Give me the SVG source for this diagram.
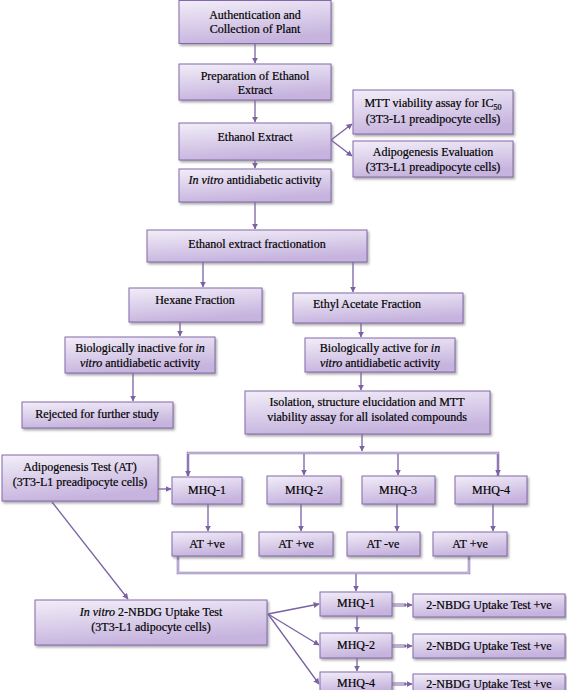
<svg xmlns="http://www.w3.org/2000/svg" width="567" height="690" viewBox="0 0 567 690">
<defs>
<linearGradient id="g" x1="0" y1="0" x2="0.3" y2="1">
<stop offset="0" stop-color="#f2eef8"/>
<stop offset="1" stop-color="#c6b3de"/>
</linearGradient>
<filter id="sh" x="-10%" y="-10%" width="125%" height="140%">
<feDropShadow dx="1.5" dy="2" stdDeviation="1.2" flood-color="#777" flood-opacity="0.6"/>
</filter>
<marker id="ah" viewBox="0 0 10 10" refX="9" refY="5" markerWidth="6" markerHeight="6" orient="auto" markerUnits="userSpaceOnUse">
<path d="M0,0 L10,5 L0,10 Z" fill="#7b61a3"/>
</marker>
</defs>
<style>
.b{fill:url(#g);stroke:#8468ac;stroke-width:1;filter:url(#sh)}
.t{font-family:"Liberation Serif","Times New Roman",serif;font-size:12px;fill:#000;stroke:#000;stroke-width:0.2;text-anchor:middle}
.i{font-style:italic}
.c{stroke:#7b61a3;stroke-width:1.3;fill:none}
.a{marker-end:url(#ah)}
.d1{stroke:#9a86c0;stroke-width:2.6;fill:none}
.d2{stroke:#e4ddef;stroke-width:0.8;fill:none}
.w1{stroke:#7b61a3;stroke-width:3;fill:none}
.w2{stroke:#fff;stroke-width:1;fill:none}
</style>
<g id="connectors">
<line class="c a" x1="255" y1="44" x2="255" y2="63"/>
<line class="c a" x1="255" y1="100" x2="255" y2="122"/>
<line class="c a" x1="255" y1="160" x2="255" y2="168"/>
<line class="c a" x1="255" y1="202" x2="255" y2="229"/>
<line class="c a" x1="331" y1="140" x2="352" y2="124"/>
<line class="c a" x1="331" y1="140" x2="352" y2="156"/>
<line class="c a" x1="203" y1="262" x2="203" y2="287"/>
<line class="c a" x1="353" y1="262" x2="353" y2="292"/>
<line class="c a" x1="180" y1="322" x2="180" y2="336"/>
<line class="c a" x1="361" y1="323" x2="361" y2="337"/>
<line class="c a" x1="133" y1="373" x2="133" y2="401"/>
<line class="c a" x1="361" y1="372" x2="361" y2="390"/>
<line class="c a" x1="362" y1="434" x2="362" y2="451"/>
<polyline class="d1" points="188,476 188,453 498,453 498,476"/>
<polyline class="d2" points="188,470 188,453 498,453 498,470"/>
<line class="c a" x1="188" y1="454" x2="188" y2="476"/>
<line class="c a" x1="304" y1="454" x2="304" y2="475"/>
<line class="c a" x1="398" y1="454" x2="398" y2="475"/>
<line class="c a" x1="498" y1="454" x2="498" y2="475"/>
<line class="c a" x1="158" y1="489" x2="171" y2="489"/>
<line class="c a" x1="208" y1="504" x2="208" y2="531"/>
<line class="c a" x1="301" y1="504" x2="301" y2="531"/>
<line class="c a" x1="397" y1="504" x2="397" y2="531"/>
<line class="c a" x1="493" y1="504" x2="493" y2="531"/>
<polyline class="d1" points="178,556 178,573 469,573 469,556"/>
<polyline class="d2" points="178,560 178,573 469,573 469,560"/>
<line class="c a" x1="356" y1="574" x2="356" y2="591"/>
<line class="c a" x1="52" y1="502" x2="128" y2="599"/>
<line class="c a" x1="268" y1="614" x2="319" y2="604"/>
<line class="c a" x1="268" y1="614" x2="319" y2="645"/>
<line class="c a" x1="268" y1="614" x2="319" y2="684"/>
<line class="c a" x1="357" y1="616" x2="357" y2="632"/>
<line class="c a" x1="357" y1="658" x2="357" y2="671"/>
<line class="w1" x1="392" y1="605" x2="406" y2="605"/>
<line class="w2" x1="392" y1="605" x2="405" y2="605"/>
<line class="c a" x1="404" y1="605" x2="412" y2="605"/>
<line class="w1" x1="392" y1="646" x2="406" y2="646"/>
<line class="w2" x1="392" y1="646" x2="405" y2="646"/>
<line class="c a" x1="404" y1="646" x2="412" y2="646"/>
<line class="w1" x1="392" y1="684" x2="406" y2="684"/>
<line class="w2" x1="392" y1="684" x2="405" y2="684"/>
<line class="c a" x1="404" y1="684" x2="412" y2="684"/>
</g>
<g id="n1"><rect class="b" x="179" y="0.5" width="152" height="43"/><text class="t" x="255" y="19">Authentication and</text><text class="t" x="255" y="33">Collection of Plant</text></g>
<g id="n2"><rect class="b" x="179" y="64" width="152" height="36"/><text class="t" x="255" y="80">Preparation of Ethanol</text><text class="t" x="255" y="94">Extract</text></g>
<g id="n3"><rect class="b" x="179" y="123" width="152" height="37"/><text class="t" x="255" y="141">Ethanol Extract</text></g>
<g id="n4"><rect class="b" x="179" y="169" width="152" height="33"/><text class="t" x="255" y="184"><tspan class="i">In vitro</tspan> antidiabetic activity</text></g>
<g id="n5"><rect class="b" x="353" y="90" width="160" height="44"/><text class="t" x="433" y="107">MTT viability assay for IC<tspan font-size="8" dy="3">50</tspan></text><text class="t" x="433" y="123">(3T3-L1 preadipocyte cells)</text></g>
<g id="n6"><rect class="b" x="353" y="141" width="160" height="36"/><text class="t" x="433" y="156">Adipogenesis Evaluation</text><text class="t" x="433" y="171">(3T3-L1 preadipocyte cells)</text></g>
<g id="n7"><rect class="b" x="147" y="230" width="220" height="32"/><text class="t" x="257" y="248">Ethanol extract fractionation</text></g>
<g id="n8"><rect class="b" x="129" y="288" width="133" height="34"/><text class="t" x="195" y="304">Hexane Fraction</text></g>
<g id="n9"><rect class="b" x="293" y="293" width="170" height="30"/><text class="t" x="367" y="308">Ethyl Acetate Fraction</text></g>
<g id="n10"><rect class="b" x="65" y="337" width="150" height="36"/><text class="t" x="140" y="352">Biologically inactive for <tspan class="i">in</tspan></text><text class="t" x="140" y="367"><tspan class="i">vitro</tspan> antidiabetic activity</text></g>
<g id="n11"><rect class="b" x="305" y="338" width="150" height="34"/><text class="t" x="380" y="352">Biologically active for <tspan class="i">in</tspan></text><text class="t" x="380" y="367"><tspan class="i">vitro</tspan> antidiabetic activity</text></g>
<g id="n12"><rect class="b" x="22" y="402" width="151" height="26"/><text class="t" x="97" y="418">Rejected for further study</text></g>
<g id="n13"><rect class="b" x="245" y="391" width="245" height="43"/><text class="t" x="367" y="406">Isolation, structure elucidation and MTT</text><text class="t" x="367" y="421">viability assay for all isolated compounds</text></g>
<g id="n14"><rect class="b" x="2" y="455" width="156" height="46"/><text class="t" x="80" y="471">Adipogenesis Test (AT)</text><text class="t" x="80" y="486">(3T3-L1 preadipocyte cells)</text></g>
<g id="n15"><rect class="b" x="172" y="477" width="70" height="27"/><text class="t" x="207" y="494">MHQ-1</text></g>
<g id="n16"><rect class="b" x="267" y="476" width="74" height="28"/><text class="t" x="304" y="494">MHQ-2</text></g>
<g id="n17"><rect class="b" x="362" y="476" width="73" height="28"/><text class="t" x="398" y="494">MHQ-3</text></g>
<g id="n18"><rect class="b" x="455" y="476" width="72" height="28"/><text class="t" x="491" y="494">MHQ-4</text></g>
<g id="n19"><rect class="b" x="172" y="532" width="70" height="24"/><text class="t" x="207" y="548">AT +ve</text></g>
<g id="n20"><rect class="b" x="259" y="532" width="74" height="24"/><text class="t" x="296" y="548">AT +ve</text></g>
<g id="n21"><rect class="b" x="347" y="532" width="73" height="24"/><text class="t" x="383" y="548">AT -ve</text></g>
<g id="n22"><rect class="b" x="433" y="532" width="74" height="24"/><text class="t" x="470" y="548">AT +ve</text></g>
<g id="n23"><rect class="b" x="35" y="600" width="232" height="45"/><text class="t" x="151" y="616"><tspan class="i">In vitro</tspan> 2-NBDG Uptake Test</text><text class="t" x="151" y="631">(3T3-L1 adipocyte cells)</text></g>
<g id="n24"><rect class="b" x="320" y="592" width="72" height="24"/><text class="t" x="356" y="607">MHQ-1</text></g>
<g id="n25"><rect class="b" x="320" y="633" width="72" height="25"/><text class="t" x="356" y="649">MHQ-2</text></g>
<g id="n26"><rect class="b" x="320" y="672" width="72" height="21"/><text class="t" x="356" y="687">MHQ-4</text></g>
<g id="n27"><rect class="b" x="413" y="594" width="152" height="23"/><text class="t" x="489" y="609">2-NBDG Uptake Test +ve</text></g>
<g id="n28"><rect class="b" x="413" y="634" width="152" height="24"/><text class="t" x="489" y="650">2-NBDG Uptake Test +ve</text></g>
<g id="n29"><rect class="b" x="413" y="674" width="152" height="20"/><text class="t" x="489" y="688">2-NBDG Uptake Test +ve</text></g>
</svg>
